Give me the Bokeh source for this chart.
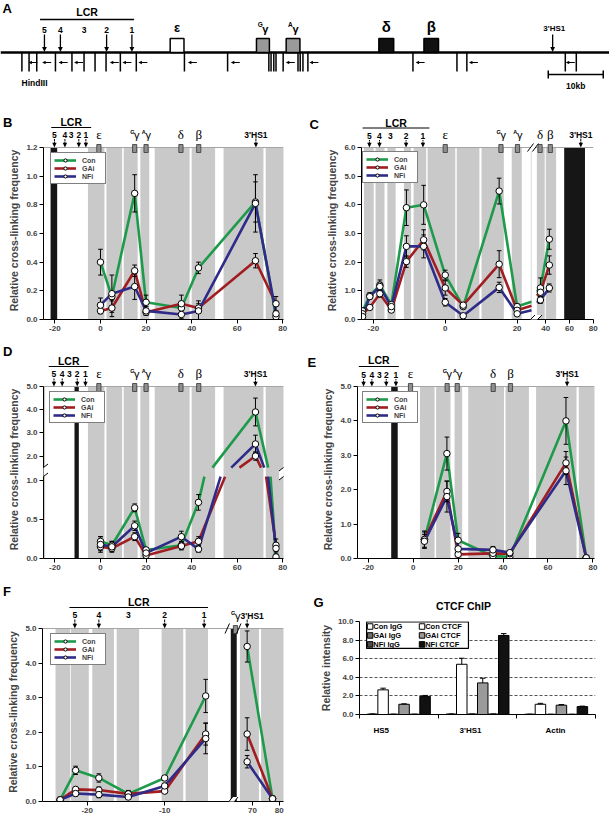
import numpy as np
from bokeh.plotting import figure
from bokeh.layouts import column, row
from bokeh.models import Range1d, FixedTicker, Legend, LegendItem, Arrow, PolyAnnotation
from bokeh.core.properties import value
from bokeh.embed import file_html
from bokeh.resources import INLINE

FONT = "Liberation Sans"
SERIF = "Liberation Serif"
GREEN, RED, BLUE = "#1e9a4b", "#a01e22", "#2e2c88"
COLORS = [GREEN, RED, BLUE]
BAND, DARK, TOPL, GENEBOX = "#c9c9c9", "#161616", "#a5a5a5", "#8f8f8f"
SERIES = ["Con", "GAi", "NFi"]
YLABEL = "Relative cross-linking frequency"
HS_NAMES = ["5", "4", "3", "2", "1"]
HS_ARROW = [True, True, False, True, True]

# ---------------- Panel A: locus map (kb, epsilon = 0) ----------------
A_SITES = [-28.4, -27.1, -25.7, -22.3, -19.3, -17.1, -15.1, -13.1, -10.5, -7.6, 1.15, 9.0,
           16.5, 16.9, 17.4, 17.8, 19.1, 21.8, 22.2, 22.7, 23.6, 42.7, 50.7, 52.5, 70.4, 72.4]
A_SITE_ARROWS = [-26.4, -23.9, -20.9, -18.1, -11.6, -9.3, -6.4, 2.6, 10.4, 20.4, 24.7, 44.0, 53.7, 71.3]
A_HS_X = [-24.3, -21.4, -17.1, -13.0, -8.4]
A_LCR = [-25.1, -8.0]
A_GENES = ["ε", "Gγ", "Aγ", "δ", "β"]
A_GENE_L = [-1.44, 14.25, 19.65, 36.5, 44.7]
A_GENE_R = [1.07, 16.6, 22.15, 39.2, 47.35]
A_GENE_FILL = ["white", "#9a9a9a", "#9a9a9a", "#111111", "#111111"]
A_HS1P = 68.1
A_SCALE = [67.3, 77.3]

# ---------------- Panel B ----------------
B_X = [0, 5, 15, 20, 35.5, 43, 68, 77]
B_Y = {"Con": [0.40, 0.16, 0.88, 0.12, 0.08, 0.36, 0.82, 0.02],
       "GAi": [0.06, 0.08, 0.34, 0.05, 0.11, 0.08, 0.41, 0.11],
       "NFi": [0.10, 0.18, 0.23, 0.06, 0.035, 0.06, 0.81, 0.04]}
B_E = {"Con": [0.09, 0.03, 0.13, 0.05, 0.03, 0.04, 0.14, 0.01],
       "GAi": [0.02, 0.06, 0.04, 0.02, 0.06, 0.03, 0.05, 0.05],
       "NFi": [0.05, 0.13, 0.09, 0.03, 0.03, 0.07, 0.20, 0.02]}
B_BANDS = [(-5.5, 1.75), (2.6, 9.5), (10.2, 16.3), (17.5, 21.4), (23.8, 39.1),
           (40.0, 50.3), (54.0, 71.5), (72.5, 81.0)]
B_ANCHOR = [(-21.9, -19.0)]
B_HS = [-20.2, -15.6, -12.9, -9.5, -6.4]
B_LCR = [-21.6, -4.1]
GENE_X = {"ε": -0.7, "Gγ": 15.0, "Aγ": 20.0, "δ": 35.3, "β": 43.1}

# ---------------- Panel C ----------------
C_X = [-23, -21, -18.2, -15, -10.8, -6, 0, 5, 15, 20, 35.5, 43]
C_Y = {"Con": [0.30, 0.83, 1.20, 0.52, 3.90, 4.00, 1.55, 0.45, 4.48, 0.45, 1.10, 2.80],
       "GAi": [0.20, 0.42, 0.90, 0.33, 2.02, 2.78, 1.10, 0.50, 1.93, 0.32, 0.95, 1.90],
       "NFi": [0.10, 0.80, 1.15, 0.45, 2.55, 2.55, 0.60, 0.13, 1.12, 0.20, 0.68, 1.10]}
C_E = {"Con": [0.10, 0.10, 0.18, 0.08, 0.62, 0.68, 0.17, 0.06, 0.45, 0.10, 0.35, 0.35],
       "GAi": [0.05, 0.06, 0.12, 0.06, 0.20, 0.35, 0.25, 0.06, 0.47, 0.08, 0.15, 0.32],
       "NFi": [0.05, 0.08, 0.15, 0.06, 0.37, 0.40, 0.13, 0.03, 0.18, 0.06, 0.12, 0.14]}
C_BANDS = [(-22.6, -19.9), (-19.4, -16.9), (-16.1, -13.8), (-11.5, -9.5), (-8.8, -5.3),
           (-4.9, 2.8), (3.2, 9.5), (10.1, 16.3), (18.5, 21.3), (23.8, 39.1), (40.0, 48.7)]
C_ANCHOR = [(55.5, 73.0)]
C_HS = [-21.1, -18.3, -15.3, -10.9, -6.2]
C_LCR = [-23.0, -4.4]
C_GENE_X = {"ε": 0.0, "Gγ": 15.5, "Aγ": 20.1, "δ": 35.2, "β": 43.8}

# ---------------- Panel D ----------------
D_X = [0, 5, 15, 20, 35.5, 43, 68, 77]
D_Y = {"Con": [0.22, 0.17, 0.65, 0.11, 0.17, 0.72, 3.90, 0.02],
       "GAi": [0.15, 0.13, 0.28, 0.04, 0.16, 0.22, 2.00, 0.17],
       "NFi": [0.18, 0.15, 0.42, 0.07, 0.28, 0.12, 2.52, 0.13]}
D_E = {"Con": [0.06, 0.05, 0.05, 0.03, 0.05, 0.10, 0.60, 0.02],
       "GAi": [0.05, 0.04, 0.05, 0.02, 0.05, 0.06, 0.18, 0.08],
       "NFi": [0.10, 0.07, 0.06, 0.03, 0.07, 0.04, 0.38, 0.06]}
D_BANDS = [(-25.5, -24.3)] + B_BANDS
D_ANCHOR = [(-11.4, -9.5)]
D_HS = [-20.4, -16.8, -13.6, -10.2, -6.6]
D_LCR = [-22.7, -5.2]

# ---------------- Panel E ----------------
E_X = [5, 15, 20, 35.5, 43, 68, 77]
E_Y = {"Con": [0.55, 3.05, 0.53, 0.07, 0.05, 4.00, 0.02],
       "GAi": [0.55, 1.95, 0.12, 0.15, 0.14, 2.78, 0.02],
       "NFi": [0.50, 1.80, 0.28, 0.25, 0.17, 2.55, 0.02]}
E_E = {"Con": [0.25, 0.48, 0.20, 0.03, 0.03, 0.68, 0.02],
       "GAi": [0.22, 0.30, 0.04, 0.05, 0.04, 0.33, 0.02],
       "NFi": [0.20, 0.45, 0.05, 0.10, 0.05, 0.40, 0.02]}
E_BANDS = [(3.0, 9.5), (10.2, 16.6), (18.4, 21.8), (24.5, 40.4), (41.1, 51.5), (54.7, 72.7), (73.7, 81.0)]
E_ANCHOR = [(-9.8, -6.9)]
E_HS = [-22.1, -18.4, -15.1, -12.0, -7.7]
E_LCR = [-24.2, -6.4]
E_GENE_X = {"ε": -1.2, "Gγ": 15.1, "Aγ": 19.6, "δ": 35.6, "β": 43.3}

# ---------------- Panel F ----------------
F_X = [-23.5, -21.5, -18.5, -14.7, -10, -4.7, 68, 77.5]
F_Y = {"Con": [0.05, 0.90, 0.68, 0.22, 0.68, 3.05, 4.48, 0.08],
       "GAi": [0.05, 0.35, 0.33, 0.22, 0.30, 1.95, 1.95, 0.08],
       "NFi": [0.05, 0.23, 0.20, 0.13, 0.45, 1.82, 1.15, 0.08]}
F_E = {"Con": [0.02, 0.12, 0.12, 0.08, 0.06, 0.48, 0.45, 0.03],
       "GAi": [0.02, 0.05, 0.09, 0.10, 0.05, 0.32, 0.47, 0.03],
       "NFi": [0.02, 0.07, 0.09, 0.05, 0.06, 0.44, 0.18, 0.03]}
F_BANDS = [(-24.1, -22.2), (-22.1, -19.8), (-19.35, -16.55), (-16.2, -13.3), (-10.4, -7.6),
           (-7.3, -4.4), (65.3, 72.4), (73.2, 82.0)]
F_ANCHOR = [(10.2, 16.3)]
F_HS = [-21.6, -18.5, -14.7, -10.0, -4.9]
F_LCR = [-22.3, -4.4]

# ---------------- Panel G ----------------
G_GROUPS = ["HS5", "3'HS1", "Actin"]
G_SERIES = ["Con IgG", "Con CTCF", "GAi IgG", "GAi CTCF", "NFi IgG", "NFi CTCF"]
G_VAL = {"Con IgG": [0.05, 0.05, 0.03], "Con CTCF": [2.65, 5.40, 1.10],
         "GAi IgG": [0.03, 0.05, 0.02], "GAi CTCF": [1.10, 3.40, 1.00],
         "NFi IgG": [0.03, 0.05, 0.02], "NFi CTCF": [1.95, 8.50, 0.85]}
G_ERR = {"Con IgG": [0.01, 0.01, 0.01], "Con CTCF": [0.18, 0.65, 0.10],
         "GAi IgG": [0.01, 0.01, 0.01], "GAi CTCF": [0.05, 0.50, 0.07],
         "NFi IgG": [0.01, 0.01, 0.01], "NFi CTCF": [0.10, 0.20, 0.05]}
G_FILL = {"Con IgG": "white", "Con CTCF": "white", "GAi IgG": "#6e6e6e", "GAi CTCF": "#9a9a9a",
          "NFi IgG": "#4c4c4c", "NFi CTCF": "#111111"}
G_LABEL_PX = [380.7, 470.0, 555.0]

# ---------------- layout geometry (page pixels, page origin at 0,0) ----------------
GEOM = {
    "B": dict(x0=0, w=304, fl=43, fr=283, top=110, line=147, fb=319, bot=340),
    "C": dict(x0=304, w=305, fl=361, fr=593, top=110, line=147, fb=319, bot=340),
    "D": dict(x0=0, w=304, fl=43, fr=283, top=340, line=386, fb=558, bot=575),
    "E": dict(x0=304, w=305, fl=357, fr=594, top=340, line=386, fb=558, bot=575),
    "F": dict(x0=0, w=304, fl=42, fr=283, top=575, line=628, fb=801, bot=824),
}
PAD = 6


def key(v):
    v = float(v)
    return int(v) if v.is_integer() else round(v, 6)


def xmap(x, pieces):
    if pieces is None:
        return x
    for lo, hi, m, c in pieces:
        if lo - 1e-9 <= x <= hi + 1e-9:
            return m * x + c
    raise ValueError(x)


def map_intervals(a, b, pieces):
    if pieces is None:
        return [(a, b)]
    out = []
    for lo, hi, m, c in pieces:
        l, h = max(a, lo), min(b, hi)
        if l < h:
            out.append((m * l + c, m * h + c))
    return out


def split_x(xs, ys, pieces, stubs):
    X, Y = [], []

    def pidx(x):
        for i, (lo, hi, m, c) in enumerate(pieces):
            if lo - 1e-9 <= x <= hi + 1e-9:
                return i
    for i in range(len(xs) - 1):
        x1, y1, x2, y2 = xs[i], ys[i], xs[i + 1], ys[i + 1]
        p1, p2 = pidx(x1), pidx(x2)
        segs = []
        if p1 == p2:
            segs = [(x1, y1, x2, y2, p1)]
        elif stubs:
            for j, (lo, hi, m, c) in enumerate(pieces):
                l, h = max(lo, x1), min(hi, x2)
                if l < h:
                    ya = y1 + (y2 - y1) * (l - x1) / (x2 - x1)
                    yb = y1 + (y2 - y1) * (h - x1) / (x2 - x1)
                    segs.append((l, ya, h, yb, j))
        for xa, ya, xb, yb, j in segs:
            lo, hi, m, c = pieces[j]
            va, vb = m * xa + c, m * xb + c
            if X and not np.isnan(X[-1]) and abs(X[-1] - va) < 1e-9 and abs(Y[-1] - ya) < 1e-9:
                X.append(vb); Y.append(yb)
            else:
                if X and not np.isnan(X[-1]):
                    X.append(np.nan); Y.append(np.nan)
                X += [va, vb]; Y += [ya, yb]
        if not segs and X and not np.isnan(X[-1]):
            X.append(np.nan); Y.append(np.nan)
    return X, Y


def split_y(xs, ys, lo, hi, f_lo, f_hi):
    X, Y = [], []

    def brk():
        if X and not np.isnan(X[-1]):
            X.append(np.nan); Y.append(np.nan)
    for i in range(len(xs) - 1):
        x1, y1, x2, y2 = xs[i], ys[i], xs[i + 1], ys[i + 1]
        ts = [0.0, 1.0]
        for cv in (lo, hi):
            if (y1 - cv) * (y2 - cv) < 0:
                ts.append((cv - y1) / (y2 - y1))
        ts.sort()
        for a, b in zip(ts[:-1], ts[1:]):
            ymid = y1 + (y2 - y1) * (a + b) / 2
            if lo < ymid < hi:
                brk()
                continue
            f = f_lo if ymid <= lo else f_hi
            xa, xb = x1 + (x2 - x1) * a, x1 + (x2 - x1) * b
            ua, ub = f(y1 + (y2 - y1) * a), f(y1 + (y2 - y1) * b)
            if X and not np.isnan(X[-1]) and abs(X[-1] - xa) < 1e-9 and abs(Y[-1] - ua) < 1e-9:
                X.append(xb); Y.append(ub)
            else:
                brk()
                X += [xa, xb]; Y += [ua, ub]
    return X, Y


def bare(width, height, xr, yr, **kw):
    p = figure(width=width, height=height, x_range=Range1d(*xr), y_range=Range1d(*yr),
               output_backend="svg", toolbar_location=None, min_border=0,
               min_border_left=0, min_border_right=0, min_border_top=0, min_border_bottom=0,
               frame_align=False, x_axis_location=None, y_axis_location=None, **kw)
    p.outline_line_color = None
    p.xgrid.visible = False
    p.ygrid.visible = False
    return p


def text(p, x, y, s, size, font=FONT, style="bold", align="center", baseline="middle"):
    p.text(x=[x], y=[y], text=[s], text_font=value(font), text_font_size=value(size),
           text_font_style=style, text_align=align, text_baseline=baseline, text_color="black")


class Panel:
    def __init__(self, g, xr, yr):
        self.g, self.xr, self.yr = g, xr, yr
        fw = g["fr"] - g["fl"]
        fh = g["fb"] - g["line"]
        self.kx = (xr[1] - xr[0]) / fw
        self.ky = (yr[1] - yr[0]) / fh
        self.ftop = g["line"] - PAD
        lb = g["fl"] - g["x0"]
        rb = g["x0"] + g["w"] - g["fr"]
        self.plot = figure(width=g["w"], height=g["bot"] - self.ftop,
                           x_range=Range1d(xr[0], xr[1]),
                           y_range=Range1d(yr[0], yr[1] + PAD * self.ky),
                           output_backend="svg", toolbar_location=None, frame_align=False,
                           min_border_left=lb, min_border_right=rb, min_border_top=0,
                           min_border_bottom=g["bot"] - g["fb"])
        self.plot.outline_line_color = None
        self.plot.xgrid.visible = False
        self.plot.ygrid.visible = False
        self.strip = bare(g["w"], self.ftop - g["top"],
                          (xr[0] - lb * self.kx, xr[1] + rb * self.kx), (self.ftop, g["top"]))

    def X(self, px):
        return self.xr[0] + (px - self.g["fl"]) * self.kx

    def Y(self, py):
        return self.yr[0] + (self.g["fb"] - py) * self.ky

    def seg(self, x0, y0, x1, y1, color="black", width=1.0):
        self.strip.segment(x0=x0, y0=y0, x1=x1, y1=y1, line_color=color, line_width=width)
        self.plot.segment(x0=x0, y0=[self.Y(v) for v in y0], x1=x1, y1=[self.Y(v) for v in y1],
                          line_color=color, line_width=width)

    def txt(self, x, y, s, size, font=FONT, style="bold", align="center"):
        text(self.strip, x, y, s, size, font, style, align)

    def poly(self, xs, ys, fill, line=None, lw=0.8):
        self.strip.patch(x=xs, y=ys, fill_color=fill, line_color=line, line_width=lw)
        self.plot.patch(x=xs, y=[self.Y(v) for v in ys], fill_color=fill, line_color=line, line_width=lw)

    def down_arrow(self, x, ytop, ytip):
        self.seg([x], [ytop], [x], [ytip - 4])
        w = 2.2 * self.kx
        self.poly([x - w, x + w, x], [ytip - 4.8, ytip - 4.8, ytip], "black", None)


def style_axis(ax):
    ax.major_label_text_font = FONT
    ax.major_label_text_font_style = "bold"
    ax.major_label_text_font_size = "8px"
    ax.axis_label_text_font = FONT
    ax.axis_label_text_font_style = "bold"
    ax.axis_label_text_font_size = "10.5px"
    ax.major_tick_in = 0
    ax.major_tick_out = 4
    ax.minor_tick_in = 0
    ax.minor_tick_out = 0
    ax.major_label_standoff = 2
    ax.axis_label_standoff = 3
    ax.axis_line_color = "black"
    ax.major_tick_line_color = "black"


def decorate(P, letter, letter_pos, lcr, hs, genes, hs1p, offs, pieces=None, hs1_dx=0.0):
    L = P.g["line"]
    xm = lambda x: xmap(x, pieces)
    P.txt(P.X(letter_pos[0]), letter_pos[1], letter, "13px", align="left")
    a, b = xm(lcr[0]), xm(lcr[1])
    P.seg([a], [L - offs[1]], [b], [L - offs[1]], width=1.2)
    P.txt((a + b) / 2, L - offs[0], "LCR", "10.5px")
    for name, x, arr in zip(HS_NAMES, hs, HS_ARROW):
        P.txt(xm(x), L - offs[2], name, "8.5px")
        if arr:
            P.down_arrow(xm(x), L - offs[2] + 4.5, L)
    for g, x in genes.items():
        v = xm(x)
        w = 2.1 * P.kx
        P.poly([v - w, v + w, v + w, v - w], [L - 3, L - 3, L + 5, L + 5], GENEBOX, "#333333", 0.8)
        if g in ("ε", "δ", "β"):
            P.txt(v, L - 13, g, "13px", font=SERIF, style="normal")
        else:
            P.txt(v - 2.3 * P.kx, L - 15.5, g[0], "5.5px")
            P.txt(v + 2.2 * P.kx, L - 12.5, g[1], "11px", style="normal")
    if hs1p is not None:
        v = xm(hs1p)
        P.txt(v + hs1_dx * P.kx, L - 13, "3'HS1", "8.5px")
        P.down_arrow(v, L - 9, L)


def line_panel(g, xr, yr, xs, Y, E, bands, anchors, yticks, ylabels, xticks, xlabels,
               pieces=None, stubs=True, ybreak=None, legend_off=(6, 7)):
    P = Panel(g, xr, yr)
    p = P.plot
    ymax = yr[1]
    xm = lambda x: xmap(x, pieces)
    if ybreak is None:
        ym = lambda y: y
    else:
        lo, hi, flo, fhi = ybreak
        ym = lambda y: flo(y) if y <= lo else fhi(y)
    Ls, Rs = [], []
    for a, b in bands:
        for va, vb in map_intervals(a, b, pieces):
            Ls.append(va); Rs.append(vb)
    p.quad(left=Ls, right=Rs, bottom=yr[0], top=ymax, fill_color=BAND, line_color=None)
    Ls, Rs = [], []
    for a, b in anchors:
        for va, vb in map_intervals(a, b, pieces):
            Ls.append(va); Rs.append(vb)
    p.quad(left=Ls, right=Rs, bottom=yr[0], top=ymax, fill_color=DARK, line_color=None)
    p.segment(x0=[xr[0]], y0=[ymax], x1=[xr[1]], y1=[ymax], line_color=TOPL, line_width=1)
    lines = []
    for s, col in zip(SERIES, COLORS):
        if pieces is not None:
            PX, PY = split_x(xs, Y[s], pieces, stubs)
        elif ybreak is not None:
            PX, PY = split_y(xs, Y[s], ybreak[0], ybreak[1], ybreak[2], ybreak[3])
        else:
            PX, PY = list(xs), list(Y[s])
        lines.append(p.line(np.array(PX, float), np.array(PY, float), line_color=col, line_width=2.6))
    cw = 2.3 * P.kx
    for s in SERIES:
        vx = [xm(x) for x in xs]
        lo_ = [ym(max(y - e, 0)) for y, e in zip(Y[s], E[s])]
        hi_ = [ym(y + e) for y, e in zip(Y[s], E[s])]
        p.segment(x0=vx, y0=lo_, x1=vx, y1=hi_, line_color="black", line_width=1)
        p.segment(x0=[v - cw for v in vx], y0=hi_, x1=[v + cw for v in vx], y1=hi_, line_color="black", line_width=1)
        p.segment(x0=[v - cw for v in vx], y0=lo_, x1=[v + cw for v in vx], y1=lo_, line_color="black", line_width=1)
    items = []
    for s, lr in zip(SERIES, lines):
        vx = [xm(x) for x in xs]
        sr = p.scatter(vx, [ym(y) for y in Y[s]], marker="circle", size=6.5,
                       fill_color="white", line_color="black", line_width=1)
        items.append(LegendItem(label=s, renderers=[lr, sr]))
    fh_total = g["fb"] - P.ftop
    leg = Legend(items=items, location=(legend_off[0], fh_total - PAD - legend_off[1] - 30),
                 border_line_color="black", border_line_width=1.5, background_fill_color="white",
                 background_fill_alpha=1.0, label_text_font=FONT, label_text_font_style="bold",
                 label_text_font_size="7px", glyph_width=22, glyph_height=8, label_height=8,
                 label_standoff=6, spacing=0, padding=3, margin=0)
    p.add_layout(leg)
    yax, xax = p.yaxis[0], p.xaxis[0]
    yt = [key(t) for t in yticks]
    yax.ticker = FixedTicker(ticks=yt)
    yax.major_label_overrides = dict(zip(yt, ylabels))
    yax.bounds = (yr[0], ymax)
    yax.axis_label = YLABEL
    xt = [key(xm(t)) for t in xticks]
    xax.ticker = FixedTicker(ticks=xt)
    xax.major_label_overrides = dict(zip(xt, xlabels))
    style_axis(yax)
    style_axis(xax)
    return P


def slash_annot(P, cx, cy, hx, hy):
    P.plot.add_layout(Arrow(end=None, x_start=P.X(cx - hx), y_start=P.Y(cy + hy),
                            x_end=P.X(cx + hx), y_end=P.Y(cy - hy), line_color="black", line_width=1))


def gap_mask(P, c1, c2, cy, hx, hy):
    xs = [P.X(c1 - hx), P.X(c1 + hx), P.X(c2 + hx), P.X(c2 - hx)]
    ys = [P.Y(cy + hy), P.Y(cy - hy), P.Y(cy - hy), P.Y(cy + hy)]
    P.plot.add_layout(PolyAnnotation(xs=xs, ys=ys, fill_color="white", fill_alpha=1.0, line_alpha=0))


def vgap_mask(P, cx, y1, y2, hx, hy):
    xs = [P.X(cx - hx), P.X(cx + hx), P.X(cx + hx), P.X(cx - hx)]
    ys = [P.Y(y1 + hy), P.Y(y1 - hy), P.Y(y2 - hy), P.Y(y2 + hy)]
    P.plot.add_layout(PolyAnnotation(xs=xs, ys=ys, fill_color="white", fill_alpha=1.0, line_alpha=0))


# ================= Panel A =================
A_XR = ((0 - 177.6) / 5.5, (609 - 177.6) / 5.5)
kA = (A_XR[1] - A_XR[0]) / 609
pa = bare(609, 110, A_XR, (110, 0))
text(pa, A_XR[0] + 2 * kA, 8, "A", "13px", align="left")
pa.line([A_XR[0], A_XR[1]], [52, 52], line_color="black", line_width=2.6)
pa.segment(x0=A_SITES, y0=[52] * len(A_SITES), x1=A_SITES, y1=[71] * len(A_SITES),
           line_color="black", line_width=1.5)
pa.segment(x0=[c - 1.5 * kA for c in A_SITE_ARROWS], y0=[62] * len(A_SITE_ARROWS),
           x1=[c + 4.5 * kA for c in A_SITE_ARROWS], y1=[62] * len(A_SITE_ARROWS),
           line_color="black", line_width=1)
pa.patches(xs=[[c - 4.5 * kA, c - 1 * kA, c - 1 * kA] for c in A_SITE_ARROWS],
           ys=[[62, 60.2, 63.8] for c in A_SITE_ARROWS], fill_color="black", line_color=None)
pa.segment(x0=[A_LCR[0]], y0=[19], x1=[A_LCR[1]], y1=[19], line_color="black", line_width=1.3)
text(pa, (A_LCR[0] + A_LCR[1]) / 2, 11.5, "LCR", "10.5px")
for name, x, arr in zip(HS_NAMES, A_HS_X, HS_ARROW):
    text(pa, x, 29.5, name, "8.5px")
    if arr:
        pa.segment(x0=[x], y0=[34], x1=[x], y1=[47], line_color="black", line_width=1.3)
        pa.patch(x=[x - 2.4 * kA, x + 2.4 * kA, x], y=[46.5, 46.5, 51.5], fill_color="black", line_color=None)
pa.segment(x0=[A_HS1P], y0=[34], x1=[A_HS1P], y1=[47], line_color="black", line_width=1.3)
pa.patch(x=[A_HS1P - 2.4 * kA, A_HS1P + 2.4 * kA, A_HS1P], y=[46.5, 46.5, 51.5], fill_color="black", line_color=None)
text(pa, A_HS1P + 0.3, 27.5, "3'HS1", "8px")
pa.quad(left=A_GENE_L, right=A_GENE_R, top=[38] * 5, bottom=[52] * 5, fill_color=A_GENE_FILL,
        line_color="black", line_width=1.5)
for g, l, r in zip(A_GENES, A_GENE_L, A_GENE_R):
    c = (l + r) / 2
    if len(g) == 1:
        text(pa, c, 27 if g == "ε" else 26, g, "13px" if g == "ε" else "15px")
    else:
        text(pa, c - 2.6 * kA, 24, g[0], "6.5px")
        text(pa, c + 2.4 * kA, 28, g[1], "11px")
text(pa, -26.1, 82, "HindIII", "8.5px")
pa.segment(x0=[A_SCALE[0]], y0=[74], x1=[A_SCALE[1]], y1=[74], line_color="black", line_width=1.5)
pa.segment(x0=A_SCALE, y0=[70, 70], x1=A_SCALE, y1=[78, 78], line_color="black", line_width=1.5)
text(pa, (A_SCALE[0] + A_SCALE[1]) / 2, 85, "10kb", "8.5px")

# ================= Panel B =================
XT = [-20, 0, 20, 40, 60, 80]
XL = ["-20", "0", "20", "40", "60", "80"]
PB = line_panel(GEOM["B"], (-25.0, 80.3), (0, 1.2), B_X, B_Y, B_E, B_BANDS, B_ANCHOR,
                [0, 0.2, 0.4, 0.6, 0.8, 1.0, 1.2], ["0.0", "0.2", "0.4", "0.6", "0.8", "1.0", "1.2"],
                XT, XL, legend_off=(7, 7))
decorate(PB, "B", (2.5, 122), B_LCR, B_HS, GENE_X, 68.2, (25.5, 20, 13))

# ================= Panel C =================
C_PIECES = [(-100, 24, 1.0, 0.0), (32.5, 200, 0.3306, 27.97 - 40 * 0.3306)]
PC = line_panel(GEOM["C"], (-23.3, 41.25), (0, 6.0), C_X, C_Y, C_E, C_BANDS, C_ANCHOR,
                [0, 1, 2, 3, 4, 5, 6], ["0.0", "1.0", "2.0", "3.0", "4.0", "5.0", "6.0"],
                XT, XL, pieces=C_PIECES, stubs=True, legend_off=(1, 6))
decorate(PC, "C", (309, 124), C_LCR, C_HS, C_GENE_X, 69.5, (25, 19.5, 12), pieces=C_PIECES)
gap_mask(PC, 530, 537, 319, 4.5, 4.5)
slash_annot(PC, 530, 319, 4.5, 4.5)
slash_annot(PC, 537, 319, 4.5, 4.5)
L = GEOM["C"]["line"]
PC.poly([PC.X(527), PC.X(533), PC.X(538), PC.X(532)], [L + 4, L - 4, L - 4, L + 4], "white", None)
PC.seg([PC.X(527), PC.X(532)], [L + 4, L + 4], [PC.X(533), PC.X(538)], [L - 4, L - 4])

# ================= Panel D (broken y axis) =================
D_LO, D_HI, D_GAP, D_R = 1.05, 1.5, 0.116, 0.2974
d_lo = lambda y: y
d_hi = lambda y: D_LO + D_GAP + (y - D_HI) * D_R
D_TV = [0, 0.5, 1.0, 2.0, 3.0, 4.0, 5.0]
D_TICKS = [d_lo(v) if v <= D_LO else d_hi(v) for v in D_TV]
PD = line_panel(GEOM["D"], (-25.0, 80.3), (0, d_hi(5.0)), D_X, D_Y, D_E, D_BANDS, D_ANCHOR,
                D_TICKS, ["0.0", "0.5", "1.0", "2.0", "3.0", "4.0", "5.0"], XT, XL,
                ybreak=(D_LO, D_HI, d_lo, d_hi), legend_off=(6, 7))
decorate(PD, "D", (2.5, 351), D_LCR, D_HS, GENE_X, 68.0, (26, 20, 12.5))
for cx in (43, 283):
    vgap_mask(PD, cx, 476, 467, 4.5, 3.5)
    slash_annot(PD, cx, 476, 4.5, 3.5)
    slash_annot(PD, cx, 467, 4.5, 3.5)

# ================= Panel E =================
PE = line_panel(GEOM["E"], (-24.8, 80.7), (0, 5.0), E_X, E_Y, E_E, E_BANDS, E_ANCHOR,
                [0, 1, 2, 3, 4, 5], ["0.0", "1.0", "2.0", "3.0", "4.0", "5.0"], XT, XL,
                legend_off=(5, 7))
decorate(PE, "E", (307, 362), E_LCR, E_HS, E_GENE_X, 68.5, (26.5, 20, 12))

# ================= Panel F (broken x axis) =================
F_PIECES = [(-100, -1.5, 1.0, 0.0), (10.2, 16.3, 0.126, -1.46 - 10.2 * 0.126),
            (65.0, 200, 0.3454, 1.345 - 70 * 0.3454)]
PF = line_panel(GEOM["F"], (-25.78, 5.35), (0, 5.0), F_X, F_Y, F_E, F_BANDS, F_ANCHOR,
                [0, 1, 2, 3, 4, 5], ["0.0", "1.0", "2.0", "3.0", "4.0", "5.0"],
                [-20, -10, 70, 80], ["-20", "-10", "70", "80"], pieces=F_PIECES, stubs=False,
                legend_off=(8, 7))
decorate(PF, "F", (2.5, 591), F_LCR, F_HS, {"Gγ": 15.0}, 68.0, (27, 21, 13.5), pieces=F_PIECES,
         hs1_dx=5.0)
gap_mask(PF, 228.5, 234, 801, 3.5, 4.5)
slash_annot(PF, 228.5, 801, 3.5, 4.5)
slash_annot(PF, 234, 801, 3.5, 4.5)
L = GEOM["F"]["line"]
PF.seg([PF.X(224.5), PF.X(236)], [L + 5, L + 5], [PF.X(229), PF.X(240.5)], [L - 5, L - 5])

# ================= Panel G =================
sg = bare(305, 40, (304, 609), (615, 575))
text(sg, 313, 602, "G", "13px", align="left")
text(sg, 463, 605, "CTCF ChIP", "10.5px")
pg = figure(width=305, height=109, x_range=Range1d(0, 3), y_range=Range1d(0, 10),
            output_backend="svg", toolbar_location=None, frame_align=False,
            min_border_left=55, min_border_right=14, min_border_top=6, min_border_bottom=10)
pg.outline_line_color = None
pg.xgrid.visible = False
pg.ygrid.ticker = FixedTicker(ticks=[2, 4, 6, 8, 10])
pg.ygrid.grid_line_color = "#555555"
pg.ygrid.grid_line_dash = "3 2"
pg.ygrid.grid_line_width = 1
SLOT = 0.1334
for k, s in enumerate(G_SERIES):
    xs = [gi + 0.5 + (k - 2.5) * SLOT for gi in range(len(G_GROUPS))]
    pg.vbar(x=xs, width=SLOT, top=G_VAL[s], bottom=0, fill_color=G_FILL[s], line_color="black", line_width=1)
    tops = [v + e for v, e in zip(G_VAL[s], G_ERR[s])]
    pg.segment(x0=xs, y0=G_VAL[s], x1=xs, y1=tops, line_color="black", line_width=1)
    pg.segment(x0=[x - 0.035 for x in xs], y0=tops, x1=[x + 0.035 for x in xs], y1=tops,
               line_color="black", line_width=1)
pg.quad(left=[0.09], right=[1.385], top=[9.97], bottom=[7.1], fill_color="white", line_color="black", line_width=1.2)
for k, s in enumerate(G_SERIES):
    col = k % 2
    rw = k // 2
    mx = 0.135 + col * 0.66
    my = 9.46 - rw * 0.96
    pg.scatter([mx], [my], marker="square", size=5.5, fill_color=G_FILL[s], line_color="black", line_width=1)
    text(pg, mx + 0.04, my, s, "7.5px", align="left")
yax, xax = pg.yaxis[0], pg.xaxis[0]
yax.ticker = FixedTicker(ticks=[0, 2, 4, 6, 8, 10])
yax.major_label_overrides = {0: "0.0", 2: "2.0", 4: "4.0", 6: "6.0", 8: "8.0", 10: "10.0"}
yax.axis_label = "Relative intensity"
xax.ticker = FixedTicker(ticks=[], minor_ticks=[0, 1, 2, 3])
style_axis(yax)
style_axis(xax)
xax.major_tick_out = 0
xax.minor_tick_out = 4
xax.minor_tick_line_color = "black"
sg2 = bare(305, 100, (304, 609), (824, 724))
for name, px in zip(G_GROUPS, G_LABEL_PX):
    text(sg2, px, 730, name, "8px")

layout = column(
    pa,
    row(column(PB.strip, PB.plot), column(PC.strip, PC.plot)),
    row(column(PD.strip, PD.plot), column(PE.strip, PE.plot)),
    row(column(PF.strip, PF.plot), column(sg, pg, sg2)),
)
open("out.html", "w").write(file_html(layout, INLINE))
